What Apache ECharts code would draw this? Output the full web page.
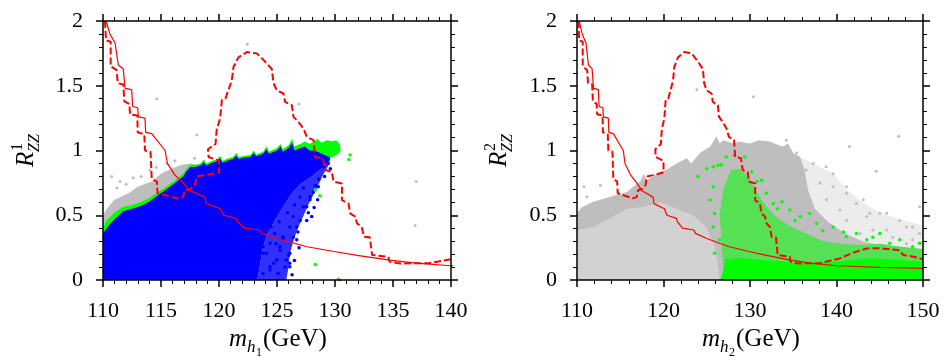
<!DOCTYPE html>
<html>
<head>
<meta charset="utf-8">
<script src="https://cdn.jsdelivr.net/npm/echarts@6/dist/echarts.min.js"></script>
<style>
  html, body { margin: 0; padding: 0; background: #fff; }
  #chart { width: 949px; height: 364px; }
</style>
</head>
<body>
<div id="chart"></div>
<script>
// limit curves (same in both panels): [mass, R]
var solidLimit = [[110.26,2.0],[110.6,1.90],[111.04,1.83],[111.32,1.66],[111.75,1.63],[111.9,1.48],[112.47,1.47],[112.56,1.34],[112.99,1.33],[113.05,1.26],[113.62,1.25],[113.68,1.14],[114.2,1.13],[115.35,1.0],[115.55,0.90],[116.2,0.81],[116.9,0.75],[117.5,0.69],[118.8,0.64],[118.9,0.59],[120.1,0.55],[120.4,0.50],[121.5,0.476],[121.6,0.45],[122.2,0.40],[123.5,0.386],[123.7,0.36],[125.0,0.32],[127.6,0.257],[129.9,0.22],[131.9,0.19],[134.7,0.154],[137.0,0.13],[140,0.11],[145,0.097],[150,0.09]];
var dashedLimit = [[110.17,2.0],[110.26,1.85],[110.66,1.84],[110.66,1.65],[111.18,1.62],[111.27,1.52],[111.75,1.51],[111.84,1.38],[112.27,1.36],[112.33,1.28],[112.96,1.27],[112.99,1.14],[113.56,1.125],[113.62,1.0],[114.1,0.99],[114.2,0.78],[114.65,0.76],[114.7,0.67],[115.6,0.65],[116.4,0.63],[116.9,0.64],[117.07,0.695],[117.5,0.70],[117.9,0.73],[118.1,0.80],[118.8,0.81],[120.0,0.83],[120.0,0.92],[119.1,0.95],[119.05,1.01],[119.7,1.05],[119.8,1.16],[120.1,1.25],[120.25,1.39],[120.55,1.40],[121.1,1.54],[121.25,1.645],[121.68,1.72],[122.4,1.76],[123.26,1.75],[123.83,1.70],[124.55,1.63],[124.7,1.52],[124.98,1.465],[125.56,1.44],[125.7,1.375],[126.28,1.35],[126.42,1.26],[126.85,1.22],[127.28,1.17],[127.57,1.105],[128.15,1.08],[128.29,0.95],[128.95,0.94],[129.15,0.85],[129.73,0.835],[129.87,0.76],[130.6,0.745],[130.6,0.617],[131.17,0.59],[131.3,0.514],[131.74,0.49],[131.9,0.437],[132.3,0.41],[132.5,0.334],[133.0,0.33],[133.2,0.193],[134.6,0.18],[134.7,0.14],[135.6,0.128],[138.1,0.13],[140.4,0.167],[141.9,0.21],[143.5,0.244],[145,0.245],[146.5,0.236],[147.3,0.23],[147.7,0.193],[148.9,0.18],[150,0.16]];

// left panel (h1): outlines of the dense point clouds and sparse points
var grayCloudL = [[110,0],[110,0.50],[110.2,0.53],[110.6,0.58],[111,0.62],[111.5,0.64],[112.2,0.67],[113,0.72],[114.2,0.76],[115,0.82],[115.9,0.86],[116.8,0.89],[117.6,0.90],[118.5,0.88],[119,0.8],[119,0]];
var greenCloudL = [[110,0.30],[110,0.40],[110.3,0.46],[111,0.52],[111.75,0.566],[112.5,0.58],[113.2,0.60],[113.9,0.63],[114.6,0.67],[115.3,0.71],[116.06,0.76],[116.5,0.79],[116.9,0.82],[117.2,0.86],[117.5,0.89],[118,0.89],[118.4,0.90],[118.7,0.93],[118.9,0.90],[119.4,0.92],[119.8,0.93],[120.1,0.96],[120.3,0.92],[120.8,0.94],[121.2,0.95],[121.5,0.98],[121.7,0.95],[122.2,0.96],[122.7,0.965],[123,1.0],[123.2,0.97],[123.8,0.99],[124.1,1.03],[124.3,0.99],[125,1.02],[125.3,1.05],[125.5,1.01],[126,1.04],[126.3,1.09],[126.5,1.03],[127,1.05],[127.4,1.07],[127.8,1.05],[128.2,1.07],[128.5,1.09],[128.8,1.06],[129.3,1.08],[129.7,1.07],[130.1,1.08],[130.4,1.05],[130.5,1.0],[130.2,0.97],[129.6,0.94],[128,0.80],[112,0.35]];
var blueCloudL = [[110,0],[110,0.36],[110.5,0.42],[111,0.47],[111.75,0.53],[112.5,0.55],[113.2,0.57],[113.9,0.60],[114.6,0.645],[115.3,0.69],[116.06,0.74],[116.5,0.77],[116.9,0.80],[117.2,0.84],[117.5,0.87],[118,0.875],[118.4,0.885],[118.7,0.91],[118.9,0.885],[119.4,0.905],[119.8,0.915],[120.1,0.94],[120.3,0.905],[120.8,0.925],[121.2,0.935],[121.5,0.96],[121.7,0.935],[122.2,0.945],[122.7,0.95],[123,0.98],[123.2,0.955],[123.8,0.975],[124.1,1.01],[124.3,0.975],[125,1.0],[125.3,1.03],[125.5,0.99],[126,1.02],[126.3,1.06],[126.5,1.0],[127,1.02],[127.4,1.03],[127.8,1.0],[128.2,1.0],[128.5,0.99],[129,0.97],[129.5,0.95],[129.6,0.93],[128.8,0.86],[128,0.80],[127,0.74],[126.2,0.66],[125.5,0.56],[124.8,0.46],[124.2,0.36],[123.8,0.26],[123.6,0.15],[123.4,0.05],[123.3,0]];
var blueSpeckleL = [[129.6,0.93],[129.4,0.88],[128.9,0.8],[128.4,0.7],[127.8,0.6],[127.3,0.5],[126.8,0.4],[126.4,0.3],[126.1,0.2],[126,0.1],[125.8,0],[123.3,0],[123.4,0.05],[123.6,0.15],[123.8,0.26],[124.2,0.36],[124.8,0.46],[125.5,0.56],[126.2,0.66],[127,0.74],[128,0.80],[128.8,0.86]];
var blueDotsL = [[129.42,0.90],[128.99,0.875],[128.56,0.72],[128.13,0.68],[127.84,0.62],[127.99,0.49],[127.56,0.46],[126.7,0.41],[127.27,0.566],[126.4,0.33],[126.1,0.206],[126.1,0.129],[125.7,0.10],[125.26,0.257],[124.97,0.154],[124.7,0.129],[124.1,0.206],[123.8,0.257],[124.4,0.077],[126,0.19],[126.8,0.37],[125.5,0.32],[127,0.64],[128.3,0.73],[126.1,0.103],[125.8,0.154],[126.7,0.31],[127,0.46],[127.56,0.566],[127.85,0.643],[127.27,0.71],[125,0.154],[125.26,0.23],[124.4,0.103],[123.8,0.05],[125.5,0.334],[126.1,0.41],[126.4,0.49],[123.25,0.064],[122.7,0.103],[123.8,0.206],[124.4,0.283],[124.8,0.36],[121.8,0.064],[122.4,0.18],[125.2,0.45],[125.9,0.52],[126.5,0.58],[124.5,0.41],[125.1,0.05],[124.9,0.28],[126.9,0.25],[126.5,0.15],[129.1,0.8],[128.6,0.78],[129.6,0.86],[128.2,0.56],[127.7,0.52],[128.5,0.62],[126.3,0.04]];
var greenDotsL = [[131.3,0.965],[131.2,0.93],[128.7,0.65],[128.3,0.695],[128.3,0.12],[130.3,0.005]];
var grayDotsL = [[110.75,0.80],[111.47,0.76],[111.2,0.71],[112.0,0.74],[112.6,0.79],[113.3,0.80],[114.05,0.85],[114.6,0.87],[115.5,0.90],[116.2,0.92],[114.63,1.40],[118.08,1.12],[122.45,1.82],[126.9,1.36],[137.0,0.76],[136.9,0.42],[125.4,0.02],[117.9,0.94],[130.4,0.0]];

// right panel (h2)
var grayLightR = [[110,0],[110,0.4],[111.9,0.42],[113.85,0.49],[115.77,0.56],[117.7,0.58],[119.6,0.63],[121.5,0.65],[123.45,0.68],[125,0.6],[126,0.4],[127,0]];
var grayFaintR = [[135.8,0.95],[137.3,0.9],[139.6,0.82],[141.2,0.7],[143,0.6],[145,0.52],[147.3,0.47],[150,0.42],[150,0.2],[146,0.24],[143,0.29],[141,0.35],[139,0.44],[137.5,0.54],[136.7,0.7]];
var grayCloudR = [[110,0.386],[110,0.515],[110.5,0.56],[111.9,0.605],[113.85,0.643],[115.77,0.68],[116.5,0.72],[117.3,0.76],[117.7,0.82],[118.1,0.77],[119.6,0.836],[120.3,0.85],[121.5,0.90],[122.7,0.94],[123.2,0.9],[124.2,0.98],[125.4,1.03],[126.15,1.11],[126.5,1.055],[126.9,1.08],[128.1,1.055],[128.8,1.07],[130,1.055],[131,1.08],[132.3,1.07],[133.3,1.04],[133.8,1.03],[134.4,1.055],[135,0.98],[135.8,0.95],[136.3,0.85],[136.7,0.7],[137.5,0.55],[139,0.45],[141,0.36],[143,0.30],[146,0.25],[150,0.22],[150,0],[126.5,0],[126,0.25],[125,0.4],[123.45,0.5],[121.5,0.55],[119.6,0.6],[117.7,0.566],[115.77,0.55],[113.85,0.476],[111.9,0.41]];
var greenCoreR = [[126.9,0.1],[126.7,0.3],[126.5,0.5],[126.9,0.7],[127.8,0.85],[128.8,0.86],[129.8,0.8],[130.6,0.7],[131.5,0.6],[132.8,0.5],[134.5,0.42],[136.5,0.36],[138.5,0.3],[140.5,0.28],[143,0.27],[145,0.28],[147,0.26],[150,0.24],[150,0.12],[128,0.12]];
var greenSolidR = [[126.6,0],[126.9,0.08],[127.2,0.15],[128.5,0.17],[132.3,0.15],[136.2,0.13],[140,0.14],[143.9,0.17],[147.7,0.15],[150,0.14],[150,0]];
var greenDotsR = [[124.0,0.80],[125.75,0.874],[126.3,0.887],[127.26,0.95],[128.2,0.964],[129.4,0.95],[130.2,0.835],[130.8,0.76],[131.35,0.77],[131.9,0.67],[132.7,0.59],[133.7,0.604],[134.6,0.54],[135.8,0.49],[136.9,0.514],[137.7,0.437],[139.6,0.41],[141.15,0.334],[142.3,0.36],[143.5,0.31],[145,0.36],[146.15,0.283],[147.3,0.31],[148.8,0.257],[149.6,0.283],[125.75,0.72],[125.4,0.617],[125.9,0.514],[125.75,0.41],[126.5,0.31],[125.9,0.206],[127.3,0.154],[127.45,0.05],[126.9,0.026],[125,0.86],[126.7,0.89],[133.2,0.55],[135.2,0.46],[138.4,0.38],[140.8,0.37],[144.2,0.33]];
var grayDotsR = [[123.85,1.47],[130.4,1.415],[147.2,1.11],[141.5,1.03],[134.2,1.08],[144.6,0.84],[137.3,0.90],[138.8,0.875],[141.15,0.72],[143.1,0.62],[143.85,0.515],[145.8,0.515],[147.3,0.46],[149.6,0.566],[148.8,0.41],[149.6,0.36],[110.8,0.72],[112.7,0.73],[111.15,0.643],[139.6,0.82],[141.15,0.67],[142.3,0.59],[143.5,0.49],[145,0.515],[145.8,0.386],[148.1,0.41],[148.8,0.31],[140.4,0.54],[138.85,0.62],[138.1,0.75],[136.5,0.85],[135.4,0.98],[139.6,0.72],[141.15,0.46],[142.7,0.36],[144.2,0.386],[146.5,0.33],[148.1,0.28],[149.2,0.23]];

var FONT = "'Liberation Serif', 'Times New Roman', Times, serif";
var chart = echarts.init(document.getElementById('chart'));

function xAxisPair(gi, max, interval) {
  var base = {
    gridIndex: gi, type: 'value', min: 110, max: max, interval: interval, z: 10,
    axisLine: { onZero: false, lineStyle: { color: '#000', width: 1.5 } },
    axisTick: { length: 7, lineStyle: { color: '#000', width: 1.5 } },
    minorTick: { show: true, splitNumber: 5, length: 4, lineStyle: { color: '#000', width: 1 } },
    splitLine: { show: false },
    axisLabel: { color: '#000', fontFamily: FONT, fontSize: 22, margin: 20 }
  };
  var top = echarts.util.merge(echarts.util.clone(base), { position: 'top', axisLabel: { show: false } }, true);
  base.position = 'bottom';
  return [base, top];
}
function yAxisPair(gi) {
  var base = {
    gridIndex: gi, type: 'value', min: 0, max: 2, interval: 0.5, z: 10,
    axisLine: { onZero: false, lineStyle: { color: '#000', width: 1.5 } },
    axisTick: { length: 7, lineStyle: { color: '#000', width: 1.5 } },
    minorTick: { show: true, splitNumber: 5, length: 4, lineStyle: { color: '#000', width: 1 } },
    splitLine: { show: false },
    axisLabel: { color: '#000', fontFamily: FONT, fontSize: 22, margin: 20 }
  };
  var right = echarts.util.merge(echarts.util.clone(base), { position: 'right', axisLabel: { show: false } }, true);
  base.position = 'left';
  return [base, right];
}

function cloud(ax, pts, color, z) {
  return {
    type: 'custom', xAxisIndex: ax, yAxisIndex: ax, z: z, silent: true,
    data: [pts[0]],
    renderItem: function (params, api) {
      return {
        type: 'polygon',
        shape: { points: pts.map(function (p) { return api.coord(p); }) },
        style: { fill: color }
      };
    }
  };
}
function dots(ax, pts, color, size, z) {
  return {
    type: 'scatter', xAxisIndex: ax, yAxisIndex: ax, z: z, silent: true,
    data: pts, symbol: 'circle', symbolSize: size,
    itemStyle: { color: color, opacity: 1 }
  };
}
function limits(ax) {
  return [
    { type: 'line', xAxisIndex: ax, yAxisIndex: ax, z: 6, data: solidLimit, symbol: 'none',
      lineStyle: { color: '#ff0000', width: 1.2 } },
    { type: 'line', xAxisIndex: ax, yAxisIndex: ax, z: 6, data: dashedLimit, symbol: 'none',
      lineStyle: { color: '#ff0000', width: 2, type: [7, 3] } }
  ];
}

function yTitle(x, sup) {
  return {
    type: 'group', x: x, y: 151, rotation: Math.PI / 2,
    children: [
      { type: 'text', x: -16, y: 0, style: { text: 'R', font: 'italic 25px ' + FONT, fill: '#000', verticalAlign: 'middle' } },
      { type: 'text', x: 0, y: -8, style: { text: sup, font: '16px ' + FONT, fill: '#000', verticalAlign: 'middle' } },
      { type: 'text', x: -1, y: 9, style: { text: 'ZZ', font: 'italic 16px ' + FONT, fill: '#000', verticalAlign: 'middle' } }
    ]
  };
}
function xTitle(cx, sub) {
  return {
    type: 'group', x: cx, y: 0,
    children: [
      { type: 'text', x: -48, y: 352, style: { text: 'm', font: 'italic 25px ' + FONT, fill: '#000', verticalAlign: 'bottom' } },
      { type: 'text', x: -30, y: 356, style: { text: 'h', font: 'italic 17px ' + FONT, fill: '#000', verticalAlign: 'bottom' } },
      { type: 'text', x: -21, y: 359, style: { text: sub, font: '12px ' + FONT, fill: '#000', verticalAlign: 'bottom' } },
      { type: 'text', x: -14, y: 352, style: { text: '(GeV)', font: '25px ' + FONT, fill: '#000', verticalAlign: 'bottom' } }
    ]
  };
}

var option = {
  animation: false,
  backgroundColor: '#fff',
  grid: [
    { left: 103, right: 498, top: 21, bottom: 84 },
    { left: 577, right: 26, top: 21, bottom: 84 }
  ],
  xAxis: xAxisPair(0, 140, 5).concat(xAxisPair(1, 150, 10)),
  yAxis: yAxisPair(0).concat(yAxisPair(1)),
  series: [
    cloud(0, grayCloudL, '#bebebe', 1),
    dots(0, grayDotsL, '#bebebe', 3, 2),
    cloud(0, greenCloudL, '#00ff00', 3),
    cloud(0, blueSpeckleL, '#3030ff', 4),
    cloud(0, blueCloudL, '#0000ff', 4),
    dots(0, blueDotsL, '#0000ff', 3.5, 4),
    dots(0, greenDotsL, '#00ff00', 3.5, 4)
  ].concat(limits(0)).concat([
    cloud(2, grayLightR, '#d2d2d2', 1),
    cloud(2, grayFaintR, '#ececec', 1),
    cloud(2, grayCloudR, '#bebebe', 1),
    dots(2, grayDotsR, '#bebebe', 3, 2),
    cloud(2, greenCoreR, '#55e055', 3),
    cloud(2, greenSolidR, '#00ff00', 3),
    dots(2, greenDotsR, '#00ff00', 3.5, 4)
  ]).concat(limits(2)),
  graphic: [yTitle(26, '1'), yTitle(499, '2'), xTitle(277, '1'), xTitle(750, '2')]
};
chart.setOption(option);
</script>
</body>
</html>
